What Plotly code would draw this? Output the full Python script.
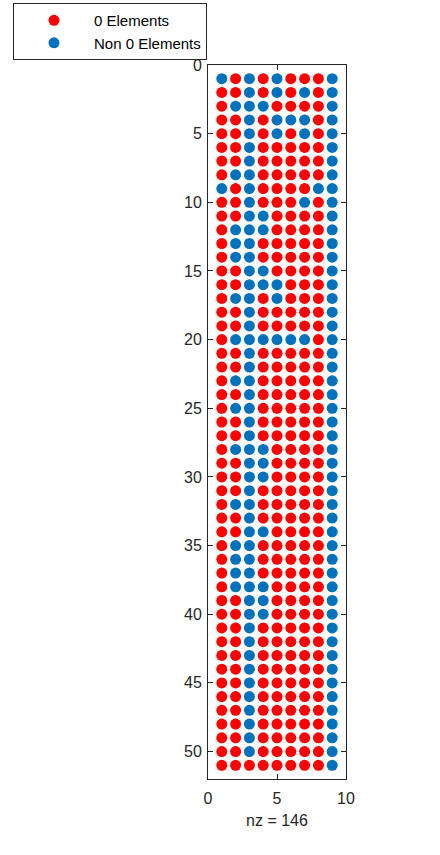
import plotly.graph_objects as go

n_rows = 51
n_cols = 9
# nonzero column indices for each row (1-based), rows 1..51
nonzero_cols = [
    [1, 3, 5, 9], [3, 5, 7, 9], [2, 3, 4, 9], [3, 5, 6, 7, 9], [3, 5, 7, 9],
    [3, 9], [3, 9], [2, 3, 9], [1, 3, 8, 9], [3, 7, 9],
    [3, 4, 9], [2, 3, 4, 9], [2, 3, 9], [2, 3, 9], [3, 4, 9],
    [3, 4, 5, 9], [2, 3, 5, 9], [3, 9], [3, 9], [2, 3, 4, 5, 6, 7, 9],
    [3, 9], [3, 9], [2, 3, 9], [3, 9], [2, 3, 9],
    [3, 9], [3, 9], [2, 3, 4, 9], [3, 4, 9], [3, 4, 9],
    [3, 9], [2, 3, 9], [3, 9], [3, 4, 9], [2, 3, 9],
    [2, 3, 9], [2, 3, 9], [2, 3, 4, 9], [3, 4, 9], [3, 4, 9],
    [3, 9], [3, 9], [3, 9], [3, 9], [3, 9],
    [3, 9], [3, 9], [3, 9], [3, 9], [3, 9],
    [9],
]

zx, zy, nx, ny = [], [], [], []
for r, cols in enumerate(nonzero_cols, start=1):
    for c in range(1, n_cols + 1):
        if c in cols:
            nx.append(c); ny.append(r)
        else:
            zx.append(c); zy.append(r)
nz = len(nx)

fig = go.Figure()
fig.add_trace(go.Scatter(x=zx, y=zy, mode="markers", name="0 Elements",
                         marker=dict(color="#FF0000", size=11)))
fig.add_trace(go.Scatter(x=nx, y=ny, mode="markers", name="Non 0 Elements",
                         marker=dict(color="#0072BD", size=11)))

axis_common = dict(showgrid=False, zeroline=False, showline=True, linecolor="#262626",
                   linewidth=1, mirror="ticks", ticks="inside", ticklen=5,
                   tickcolor="#262626", tickfont=dict(size=16, color="#262626"))
fig.update_xaxes(range=[0, 10], tickvals=[0, 5, 10], ticklabelstandoff=5,
                 title=dict(text=f"nz = {nz}", font=dict(size=16, color="#262626"), standoff=8),
                 **axis_common)
fig.update_yaxes(range=[52, 0], tickvals=list(range(0, 51, 5)), ticklabelstandoff=2, **axis_common)

fig.update_layout(
    width=440, height=855,
    margin=dict(l=208, r=94, t=65, b=76, autoexpand=False),
    paper_bgcolor="white", plot_bgcolor="white",
    font=dict(family="Liberation Sans, Arial, sans-serif", size=16, color="#262626"),
    legend=dict(x=-1.413, y=1.0868, xanchor="left", yanchor="top",
                bordercolor="#262626", borderwidth=1, bgcolor="white",
                itemwidth=70,
                font=dict(size=15, color="#000000"), tracegroupgap=0),
)

fig.write_html("out.html")
